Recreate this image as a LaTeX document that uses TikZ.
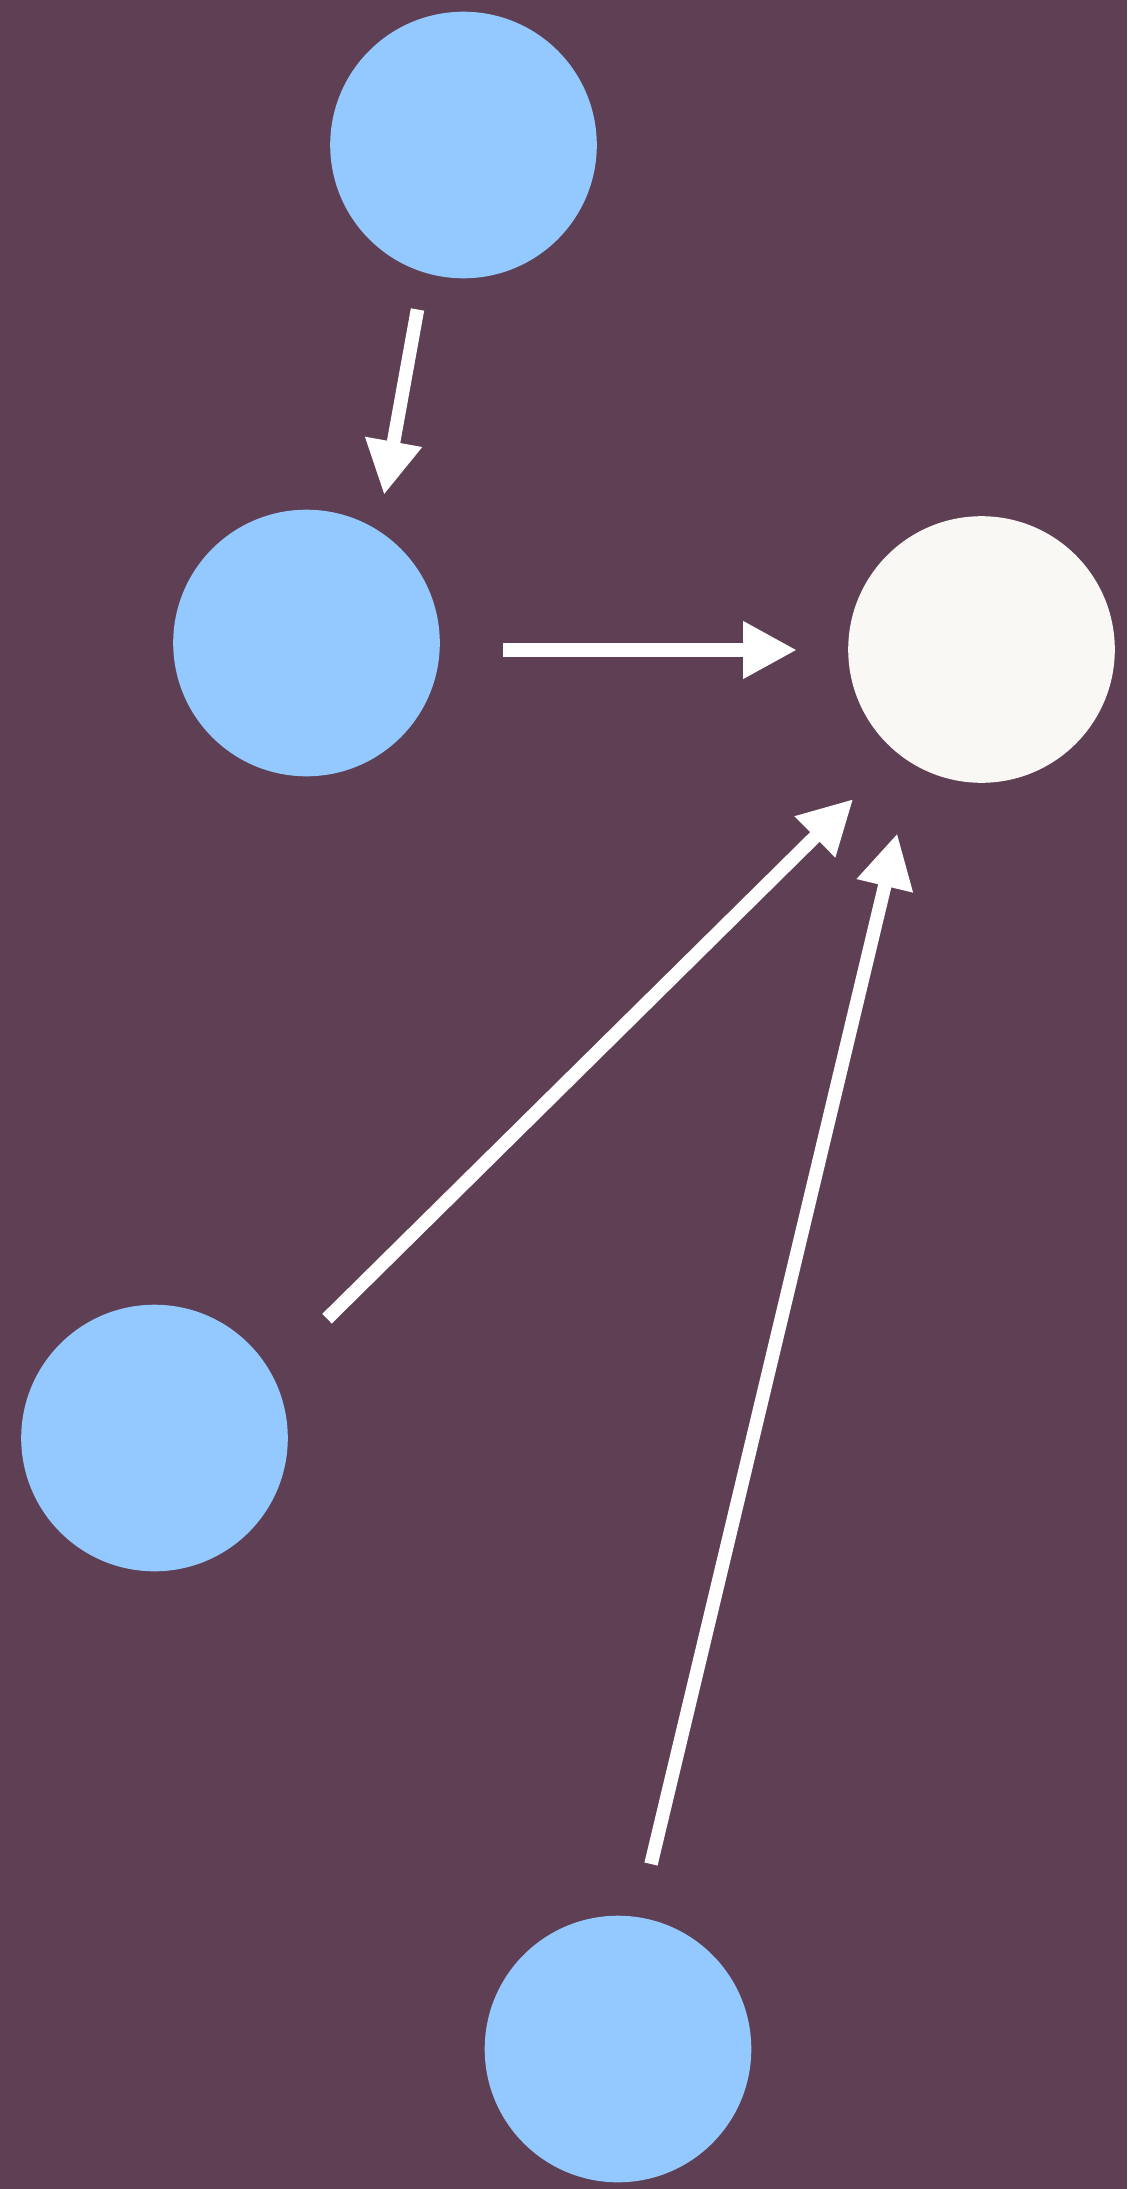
\documentclass[tikz,border=0pt]{standalone}
\usetikzlibrary{arrows.meta,calc}
\definecolor{bgc}{RGB}{95,63,84}
\definecolor{bluec}{RGB}{148,201,255}
\definecolor{whitec}{RGB}{249,248,245}
\tikzset{
  ball/.style={circle, minimum size=266.6pt, inner sep=0pt, draw=none},
  blueball/.style={ball, fill=bluec},
  whiteball/.style={ball, fill=whitec},
  conn/.style={draw=white, line width=13.5pt, -{Triangle[length=54pt,width=54pt]}}
}
\begin{document}
\begin{tikzpicture}[x=1pt,y=-1pt]
  \fill[bgc] (0,0) rectangle (1127,2189);
  \useasboundingbox (0,0) rectangle (1127,2189);
  \node[blueball] (top) at (463.5,145) {};
  \node[blueball] (mid) at (306.5,643) {};
  \node[whiteball] (right) at (981.5,649.5) {};
  \node[blueball] (ll) at (154.5,1438) {};
  \node[blueball] (bot) at (618,2049) {};
  % connector end points
  \coordinate (a1) at ($(top.center)+(-46,164.5)$);
  \coordinate (b1) at ($(mid.center)+(77.5,-148)$);
  \coordinate (a2) at ($(mid.center)+(196.5,7)$);
  \coordinate (b2) at ($(right.center)+(-184.5,0.5)$);
  \coordinate (a3) at ($(ll.center)+(172.5,-119.3)$);
  \coordinate (b3) at ($(right.center)+(-128.2,149.5)$);
  \coordinate (a4) at ($(bot.center)+(33,-185)$);
  \coordinate (b4) at ($(right.center)+(-84.2,183.8)$);
  \draw[conn] (a1) -- (b1);
  \draw[conn] (a2) -- (b2);
  \draw[conn] (a3) -- (b3);
  \draw[conn] (a4) -- (b4);
\end{tikzpicture}
\end{document}
